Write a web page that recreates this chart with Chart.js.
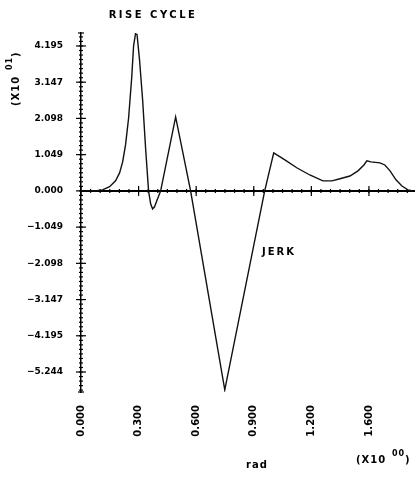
<!DOCTYPE html>
<html><head><meta charset="utf-8">
<script src="https://cdn.jsdelivr.net/npm/chart.js@4"></script>
<style>html,body{margin:0;padding:0;background:#fff;overflow:hidden;}</style>
</head><body>
<canvas id="c" width="415" height="477"></canvas>
<script>
// rad
const xValues = [0, 0.070, 0.112, 0.149, 0.180, 0.201, 0.217, 0.232, 0.248, 0.264, 0.274, 0.284, 0.292, 0.305, 0.321, 0.337, 0.352, 0.363, 0.373, 0.383, 0.399, 0.415, 0.493, 0.571, 0.749, 0.957, 1.004, 1.062, 1.124, 1.192, 1.260, 1.307, 1.349, 1.401, 1.443, 1.474, 1.489, 1.510, 1.557, 1.583, 1.610, 1.641, 1.672, 1.703, 1.729];
// jerk (x10^1)
const jerkValues = [0, 0, 0.03, 0.12, 0.29, 0.52, 0.84, 1.33, 2.11, 3.27, 4.20, 4.55, 4.52, 3.79, 2.64, 1.19, 0, -0.38, -0.52, -0.46, -0.23, 0, 2.14, 0, -5.76, 0, 1.10, 0.90, 0.67, 0.46, 0.29, 0.29, 0.35, 0.43, 0.58, 0.75, 0.87, 0.84, 0.81, 0.75, 0.58, 0.32, 0.14, 0.03, 0];
const xTickValues = [0, 0.3, 0.6, 0.9, 1.2, 1.5];
const xTickLabels = ["0.000", "0.300", "0.600", "0.900", "1.200", "1.600"];
const yTickValues = [4.195, 3.147, 2.098, 1.049, 0, -1.049, -2.098, -3.147, -4.195, -5.244];
const yTickLabels = ["4.195", "3.147", "2.098", "1.049", "0.000", "\u22121.049", "\u22122.098", "\u22123.147", "\u22124.195", "\u22125.244"];
const titleText = "RISE CYCLE";
const seriesLabel = "JERK";
const xTitle = "rad";
const yTitle = "(X10 ";
const yExp = "01";
const xExp = "00";

const FONT = "DejaVu Sans";

const axisMarks = {
  id: 'axisMarks',
  beforeDatasetsDraw(chart) {
    const {ctx, scales: {x, y}, chartArea: a} = chart;
    const y0 = y.getPixelForValue(0);
    const L = a.left;
    ctx.save();
    ctx.strokeStyle = '#000';
    const seg = (x1, y1, x2, y2) => { ctx.beginPath(); ctx.moveTo(x1, y1); ctx.lineTo(x2, y2); ctx.stroke(); };
    ctx.lineWidth = 2;
    seg(L, y0, a.right, y0);
    ctx.lineWidth = 1.2;
    xTickValues.forEach(v => { const p = x.getPixelForValue(v); seg(p, y0 - 5, p, y0 + 5); });
    for (let k = 1; k * 0.05 <= x.max; k++) {
      const p = x.getPixelForValue(k * 0.05);
      seg(p, y0 - 2, p, y0 + 2);
    }
    yTickValues.forEach(v => { const p = y.getPixelForValue(v); seg(L - 5, p, L + 5, p); });
    const step = 1.049 / 8;
    for (let k = -60; k <= 60; k++) {
      const v = k * step;
      if (v < y.min || v > y.max) continue;
      const p = y.getPixelForValue(v);
      seg(L - 2, p, L + 2, p);
    }
    seg(L - 3, a.top, L + 3, a.top);
    seg(L - 3, a.bottom, L + 3, a.bottom);
    ctx.restore();
  },
  afterDraw(chart) {
    const {ctx, scales: {x, y}} = chart;
    ctx.save();
    ctx.fillStyle = '#000';
    ctx.textBaseline = 'middle';
    ctx.textAlign = 'center';
    ctx.font = `bold 10px "${FONT}"`;
    ctx.letterSpacing = '2.5px';
    ctx.fillText(titleText, 153, 15);
    ctx.letterSpacing = '2px';
    ctx.fillText(seriesLabel, 279, 252);
    ctx.letterSpacing = '1px';
    ctx.font = `bold 10px "${FONT}"`;
    ctx.fillText(xTitle, 257, 465);
    // x exponent
    ctx.textAlign = 'left';
    ctx.fillText(yTitle.trim(), 356, 460);
    ctx.font = `bold 8px "${FONT}"`;
    ctx.fillText(xExp, 392, 454);
    ctx.font = `bold 10px "${FONT}"`;
    ctx.fillText(")", 405, 460);
    // y title rotated
    ctx.translate(16, 72);
    ctx.rotate(-Math.PI / 2);
    ctx.textAlign = 'left';
    ctx.fillText(yTitle.trim(), -34, 0);
    ctx.font = `bold 8px "${FONT}"`;
    ctx.fillText(yExp, 2, -6);
    ctx.font = `bold 10px "${FONT}"`;
    ctx.fillText(")", 15, 0);
    ctx.restore();
  }
};

new Chart(document.getElementById('c'), {
  type: 'line',
  data: {
    datasets: [{
      label: seriesLabel,
      data: xValues.map((xv, i) => ({x: xv, y: jerkValues[i]})),
      borderColor: '#111',
      borderWidth: 1.4,
      pointRadius: 0,
      tension: 0,
      fill: false
    }]
  },
  options: {
    responsive: false,
    animation: false,
    layout: {padding: {top: 33, right: 0, bottom: 0, left: 0}},
    plugins: {legend: {display: false}, tooltip: {enabled: false}, title: {display: false}},
    scales: {
      x: {
        type: 'linear', min: 0, max: 1.74, position: 'bottom',
        afterBuildTicks: s => { s.ticks = xTickValues.map(v => ({value: v})); },
        afterFit: s => { s.height = 85; },
        grid: {display: false, drawTicks: false},
        border: {display: false},
        ticks: {
          autoSkip: false, minRotation: 90, maxRotation: 90, padding: 13, color: '#000',
          font: {family: FONT, weight: 'bold', size: 10},
          callback: (v, i) => xTickLabels[i]
        }
      },
      y: {
        type: 'linear', min: -5.823, max: 4.571,
        afterBuildTicks: s => { s.ticks = yTickValues.map(v => ({value: v})); },
        afterFit: s => { s.width = 81; },
        grid: {display: false, drawTicks: false},
        border: {display: true, color: '#000', width: 1.5},
        ticks: {
          autoSkip: false, padding: 18, color: '#000',
          font: {family: FONT, weight: 'bold', size: 9},
          callback: (v, i) => yTickLabels[i]
        }
      }
    }
  },
  plugins: [axisMarks]
});
</script>
</body></html>
